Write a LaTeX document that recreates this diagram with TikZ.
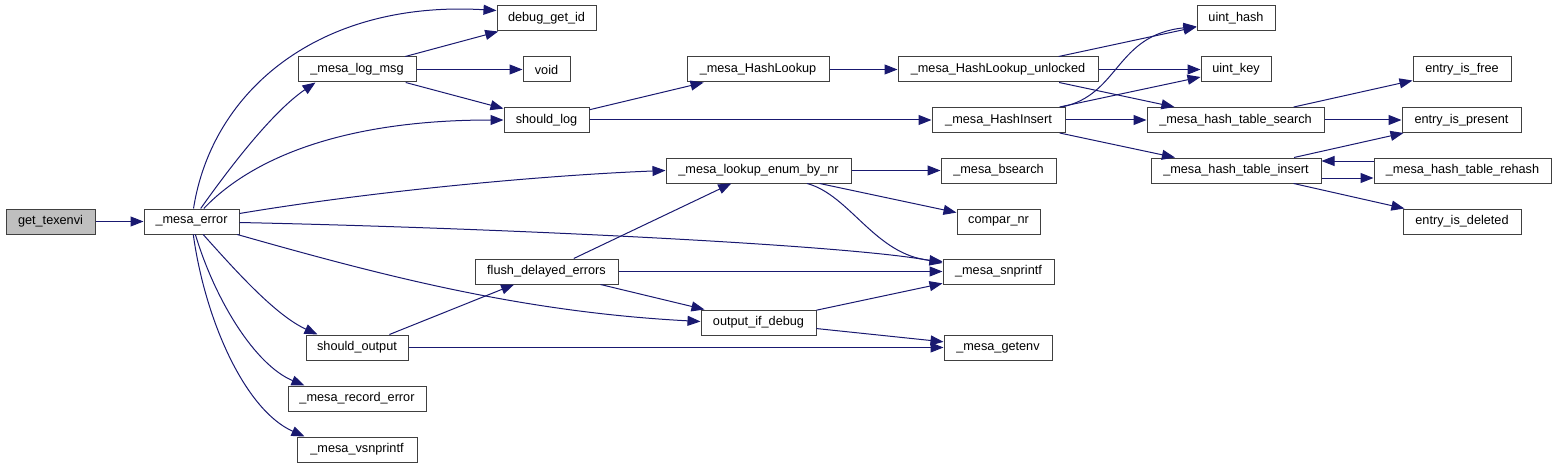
\documentclass[tikz,border=0pt]{standalone}
\usepackage{fontspec}
\setmainfont{Liberation Sans}
\usetikzlibrary{arrows.meta}
\definecolor{edgeblue}{HTML}{191970}
\definecolor{boxline}{HTML}{404040}
\definecolor{rootfill}{HTML}{BFBFBF}
\begin{document}
\begin{tikzpicture}[x=1pt,y=-1pt,
  box/.style={draw=boxline,line width=1pt,fill=white,minimum height=25pt,inner sep=0pt,
    font=\fontsize{12.7}{15}\selectfont,text=black},
  root/.style={box,fill=rootfill},
  edge/.style={draw=edgeblue,line width=1pt,-{Triangle[length=13pt,width=10pt]},color=edgeblue}]
\useasboundingbox (0,0) rectangle (1557,468);
% nodes
\node[root,minimum width=89pt]  (get)   at (50.5,221.5)  {get\_texenvi};
\node[box,minimum width=95pt]   (err)   at (191.5,221.5) {\_mesa\_error};
\node[box,minimum width=118pt]  (logmsg) at (357,69.5)   {\_mesa\_log\_msg};
\node[box,minimum width=102pt]  (shout) at (357,347.5)   {should\_output};
\node[box,minimum width=138pt]  (rec)   at (357,398.5)   {\_mesa\_record\_error};
\node[box,minimum width=120pt]  (vsn)   at (357,449.5)   {\_mesa\_vsnprintf};
\node[box,minimum width=99pt]   (dbg)   at (546.5,18.5)  {debug\_get\_id};
\node[box,minimum width=47pt]   (void)  at (546.5,69.5)  {void};
\node[box,minimum width=85pt]   (shlog) at (546.5,120)   {should\_log};
\node[box,minimum width=143pt]  (flush) at (546.5,271.5) {flush\_delayed\_errors};
\node[box,minimum width=142pt]  (hlook) at (758,69.5)    {\_mesa\_HashLookup};
\node[box,minimum width=185pt]  (lenum) at (758.5,170.5) {\_mesa\_lookup\_enum\_by\_nr};
\node[box,minimum width=115pt]  (odbg)  at (758.5,322.5) {output\_if\_debug};
\node[box,minimum width=200pt]  (unlk)  at (998,69.5)    {\_mesa\_HashLookup\_unlocked};
\node[box,minimum width=133pt]  (hins)  at (998.5,120)   {\_mesa\_HashInsert};
\node[box,minimum width=115pt]  (bs)    at (998.5,170.5) {\_mesa\_bsearch};
\node[box,minimum width=83pt]   (cmp)   at (998.5,221.5) {compar\_nr};
\node[box,minimum width=111pt]  (snp)   at (998.5,271.5) {\_mesa\_snprintf};
\node[box,minimum width=108pt]  (genv)  at (998,347.5)   {\_mesa\_getenv};
\node[box,minimum width=78pt]   (uh)    at (1236,18.5)   {uint\_hash};
\node[box,minimum width=70pt]   (uk)    at (1236,69.5)   {uint\_key};
\node[box,minimum width=177pt]  (srch)  at (1235.5,120)  {\_mesa\_hash\_table\_search};
\node[box,minimum width=170pt]  (tins)  at (1236,170.5)  {\_mesa\_hash\_table\_insert};
\node[box,minimum width=98pt]   (free)  at (1462,69.5)   {entry\_is\_free};
\node[box,minimum width=119pt]  (pres)  at (1461.5,120)  {entry\_is\_present};
\node[box,minimum width=177pt]  (reh)   at (1462.5,170.5){\_mesa\_hash\_table\_rehash};
\node[box,minimum width=118pt]  (del)   at (1462,221.5)  {entry\_is\_deleted};
% edges
\draw[edge] (get) -- (err);
\draw[edge] (err) .. controls (212,90) and (320,0) .. ([yshift=8pt]dbg.west);
\draw[edge] (err) .. controls (235,160) and (275,110) .. ([xshift=18pt]logmsg.south west);
\draw[edge] (err) .. controls (245,165) and (330,120) .. (shlog.west);
\draw[edge] (err) .. controls (380,190) and (550,175) .. (lenum.west);
\draw[edge] (err) .. controls (500,228) and (850,245) .. ([yshift=8.5pt]snp.west);
\draw[edge] (err) .. controls (380,275) and (520,312) .. ([yshift=1pt]odbg.west);
\draw[edge] (err) .. controls (235,270) and (275,315) .. ([xshift=12pt]shout.north west);
\draw[edge] (err) .. controls (215,300) and (255,365) .. ([xshift=17pt]rec.north west);
\draw[edge] (err) .. controls (205,320) and (245,410) .. ([xshift=8pt]vsn.north west);
\draw[edge] (logmsg) -- (dbg);
\draw[edge] (logmsg) -- (void);
\draw[edge] (logmsg) -- (shlog);
\draw[edge] (shlog) -- (hlook);
\draw[edge] (shlog) -- (hins);
\draw[edge] (hlook) -- (unlk);
\draw[edge] (unlk) -- (uh);
\draw[edge] (unlk) -- (uk);
\draw[edge] (unlk) -- (srch);
\draw[edge] (hins) .. controls (1120,95) and (1115,35) .. ([yshift=-8pt]uh.west);
\draw[edge] (hins) -- (uk);
\draw[edge] (hins) -- (srch);
\draw[edge] (hins) -- (tins);
\draw[edge] (srch) -- (free);
\draw[edge] (srch) -- (pres);
\draw[edge] (tins) -- (pres);
\draw[edge] ([yshift=-7.5pt]tins.east) -- ([yshift=-7.5pt]reh.west);
\draw[edge] ([yshift=9.5pt]reh.west) -- ([yshift=9.5pt]tins.east);
\draw[edge] (tins) -- (del);
\draw[edge] (lenum) -- (bs);
\draw[edge] (lenum) -- (cmp);
\draw[edge] (lenum) .. controls (850,195) and (875,255) .. ([yshift=10pt]snp.west);
\draw[edge] (flush) -- (lenum);
\draw[edge] (flush) -- (snp);
\draw[edge] (flush) -- (odbg);
\draw[edge] (odbg) -- (snp);
\draw[edge] (odbg) -- (genv);
\draw[edge] (shout) -- (flush);
\draw[edge] (shout) -- (genv);
\end{tikzpicture}
\end{document}
